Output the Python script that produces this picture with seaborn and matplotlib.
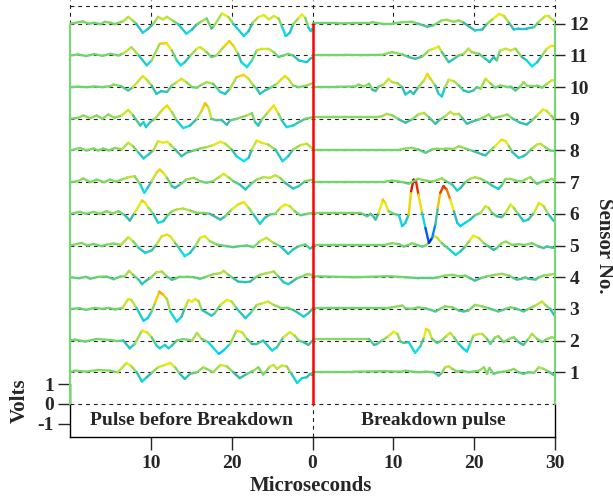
import numpy as np
import matplotlib
matplotlib.use("Agg")
import matplotlib.pyplot as plt
import seaborn as sns
import pandas as pd
from matplotlib.collections import LineCollection
from matplotlib.colors import LinearSegmentedColormap, Normalize

# ---------------- data ----------------
sensors = list(range(1, 13))
sensor_spacing = 1.6          # volts between sensor baselines
panel_labels = ["Pulse before Breakdown", "Breakdown pulse"]
x_ticks = [10, 20, 30, 40, 50, 60]
x_ticklabels = ["10", "20", "0", "10", "20", "30"]
volt_ticks = [-1, 0, 1]
volt_ticklabels = ["-1", "0", "1"]

# (time in microseconds, volts relative to the sensor baseline)
before_12 = [(0,0),(1.6,0.12),(2.3,0.0),(3.0,0.05),(3.8,-0.02),(4.3,0.1),(5.0,0.05),(5.5,-0.02),(6.6,0.13),(7.2,0.35),(7.8,0.15),(8.2,0),(9.0,-0.45),(9.6,-0.28),(10.3,0),(10.9,0.35),(11.5,0.22),(12.0,0.35),(12.8,0.13),(13.4,-0.03),(14.4,-0.5),(15.1,-0.29),(15.7,-0.03),(16.3,0.13),(16.9,0.27),(17.5,-0.24),(17.8,-0.12),(18.8,0.52),(19.6,0.34),(20.2,0),(21.5,-0.62),(22.1,-0.37),(22.6,0.05),(23.3,0.34),(24.0,0.44),(24.6,0.22),(25.2,0.39),(25.8,0.27),(26.2,-0.12),(26.7,-0.62),(27.2,-0.45),(27.6,-0.03),(28.3,0.3),(28.7,0.47),(29.1,0.3),(29.5,-0.2),(29.8,-0.37),(30,-0.24)]
before_11 = [(0,0),(1,0.05),(2,-0.03),(3,0.07),(4,-0.02),(5,0.08),(6,0.0),(6.6,0.1),(7.6,0.42),(8.5,0.0),(9.5,-0.5),(10.1,-0.25),(11.1,0.59),(11.96,0.62),(12.6,0.25),(13.2,-0.25),(13.7,-0.5),(14.2,-0.34),(14.9,0),(15.7,0.34),(16.1,0.42),(16.9,0.17),(17.5,-0.08),(18.1,0),(19.0,0.42),(19.7,0.72),(20.2,0.5),(20.8,0.08),(21.2,-0.34),(21.9,-0.59),(22.5,-0.25),(23.1,0.25),(23.7,0.34),(24.5,0.34),(25.2,0.17),(25.8,-0.08),(26.4,0),(27.0,0.08),(27.6,0),(28.3,-0.25),(29.3,-0.34),(29.7,-0.17),(30,-0.1)]
before_10 = [(0,0),(1,0.02),(2,0.0),(3,0.03),(4,0.0),(5,0.05),(5.4,0.13),(6.3,0.05),(7.2,-0.17),(7.8,0),(9.0,0.56),(9.5,0.37),(10.1,0.08),(10.7,-0.34),(11.3,-0.2),(12.0,-0.25),(12.6,0.08),(13.2,0.25),(13.8,0.42),(14.4,0.25),(15.1,0),(15.7,-0.03),(16.3,0.13),(16.9,0.25),(17.7,0.17),(18.6,-0.25),(19.2,-0.34),(19.8,-0.08),(20.6,0.5),(21.5,0.62),(22.1,0.42),(22.7,0.08),(23.1,-0.08),(23.5,-0.34),(24.1,-0.17),(24.8,-0.03),(25.6,0.17),(26.2,0.42),(26.6,0.56),(27.0,0.42),(27.6,0.08),(28.3,0),(29.3,0.08),(30,0.2)]
before_9 = [(0,0),(1.0,0.05),(1.65,0.17),(2.5,0.03),(3.3,0.17),(4.0,0.0),(4.75,0.22),(5.5,0.05),(6.4,0.17),(7.2,0.45),(7.8,0.17),(8.7,-0.34),(9.1,-0.17),(9.4,-0.42),(9.9,-0.17),(10.5,0),(11.35,0.42),(12.0,0.67),(12.6,0.34),(13.2,-0.08),(14.0,-0.47),(14.85,-0.34),(15.7,0),(16.3,0.42),(16.7,0.79),(17.1,0.59),(17.5,0),(18.15,-0.08),(18.8,-0.08),(19.4,-0.3),(19.8,-0.08),(20.6,0),(21.9,0.17),(22.5,0.29),(22.9,-0.17),(23.3,-0.34),(23.7,-0.05),(24.5,0.34),(25.2,0.67),(25.8,0.25),(26.2,-0.08),(26.8,-0.42),(27.6,-0.34),(28.3,-0.17),(29.1,0),(30,0.08)]
before_8 = [(0,0),(1.24,0.13),(2.0,0.0),(2.9,0.1),(3.5,0.0),(4.1,0.1),(4.8,0.0),(5.6,0.13),(6.4,0.05),(7.2,0.39),(7.8,0.22),(8.5,-0.12),(9.1,-0.4),(9.7,-0.2),(10.3,0),(10.9,0.47),(11.55,0.39),(12.0,0.44),(12.4,0.3),(13.0,0.05),(13.8,-0.29),(14.4,-0.12),(15.3,0),(16.1,0.1),(16.9,0.17),(17.7,0.27),(18.6,0.44),(19.2,0.34),(20.0,0.05),(20.6,-0.29),(21.5,-0.54),(22.1,-0.37),(22.5,0.05),(23.1,0.5),(23.7,0.39),(24.5,0.3),(25.4,0.05),(26.3,-0.54),(27.0,-0.29),(27.6,0.05),(28.5,0.27),(29.3,0.34),(30,0.1)]
before_7 = [(0,0),(1.0,0.05),(1.65,0.19),(2.5,0.0),(3.3,0.13),(4.2,0.0),(4.95,0.13),(5.7,0.03),(6.4,0.13),(7.2,0.25),(8.0,0.3),(8.7,-0.12),(9.2,-0.54),(9.6,-0.29),(10.1,0.05),(10.7,0.47),(11.1,0.64),(11.55,0.47),(12.0,0.22),(12.6,-0.2),(13.0,-0.29),(13.6,-0.12),(14.4,0.13),(15.3,0.22),(16.1,0.05),(16.9,-0.03),(17.7,0.05),(18.6,0.3),(19.0,0.42),(19.6,0.25),(20.2,0.05),(21.0,-0.12),(21.7,-0.37),(22.3,-0.12),(23.1,0.13),(23.9,0.25),(24.75,0.22),(25.4,0.35),(26.0,0.22),(26.6,-0.03),(27.6,-0.32),(28.3,-0.2),(29.1,0.05),(30,0.13)]
before_6 = [(0,0),(1.24,0.1),(2.0,0.0),(2.9,0.1),(3.7,0.0),(4.5,0.13),(5.3,0.02),(6.0,0.13),(6.8,-0.07),(7.4,-0.34),(8.0,0.05),(8.9,0.67),(9.3,0.56),(9.7,0.3),(10.3,0),(10.9,-0.45),(11.55,-0.37),(12.0,-0.12),(12.6,0.13),(13.2,0.22),(14.0,0.27),(14.85,0.17),(15.7,0.05),(16.5,0.05),(17.3,0),(18.6,-0.29),(19.2,-0.12),(20.0,0.22),(20.8,0.47),(21.5,0.6),(22.1,0.3),(22.7,-0.03),(23.5,-0.5),(24.1,-0.2),(24.75,-0.03),(25.4,0),(26.0,0.3),(26.6,0.47),(27.2,0.39),(27.8,0.13),(28.5,-0.07),(29.3,0),(30,0.05)]
before_5 = [(0,0),(1.44,0.13),(2.2,0.0),(2.9,0.08),(3.9,-0.03),(4.6,0.05),(5.4,0.1),(6.3,0.03),(7.2,0.42),(7.8,0.22),(8.5,-0.12),(9.3,-0.37),(10.1,-0.25),(10.7,0.05),(11.35,0.47),(12.0,0.55),(12.4,0.47),(13.0,0.13),(13.6,-0.2),(14.2,-0.54),(14.85,-0.37),(15.5,-0.03),(16.1,0.39),(16.7,0.47),(17.3,0.22),(18.15,0.05),(19.4,-0.03),(20.2,-0.08),(21.0,-0.03),(21.9,0.0),(22.7,-0.08),(23.5,0.22),(24.3,0.39),(25.2,0.13),(26.0,-0.03),(27.0,-0.42),(27.6,-0.2),(28.3,-0.03),(29.1,0.05),(29.7,-0.15),(30,-0.1)]
before_4 = [(0,0),(1.1,-0.05),(2.0,0.02),(2.5,-0.08),(3.5,0.02),(4.5,0.03),(5.4,-0.1),(6.2,0.03),(6.8,0.05),(7.3,0.32),(7.8,0.12),(8.5,-0.13),(8.9,-0.35),(9.4,-0.18),(9.9,-0.05),(10.7,0.25),(11.35,0.29),(12.0,0.03),(12.6,-0.13),(13.0,-0.08),(13.6,0.03),(14.4,0.03),(15.3,0),(16.1,-0.08),(16.9,0.03),(17.7,0.15),(18.6,0.2),(19.0,0.32),(19.6,0.12),(20.2,-0.05),(20.8,-0.22),(21.7,-0.25),(22.3,-0.22),(22.9,-0.02),(23.5,0.12),(24.3,0.2),(25.2,0.29),(25.8,0.03),(26.4,-0.25),(27.0,-0.35),(27.4,-0.25),(28.1,-0.05),(28.7,0.03),(29.3,0.15),(30,0.12)]
before_3 = [(0,0),(1.2,0.03),(2.0,-0.05),(3.0,0.05),(4.0,0.0),(4.8,0.05),(5.6,-0.03),(6.5,0.05),(7.2,0.5),(7.6,0.45),(8.25,0.03),(9.1,-0.6),(9.6,-0.47),(10.1,-0.13),(10.5,0.29),(11.05,0.87),(11.55,0.71),(12.0,0.5),(12.4,-0.13),(13.2,-0.64),(13.8,-0.39),(14.2,0.03),(14.65,0.45),(15.1,0.37),(15.5,0.5),(15.9,0.4),(16.3,-0.05),(17.5,-0.34),(17.9,-0.22),(18.6,0.2),(19.4,0.45),(20.0,0.37),(20.6,0.03),(21.7,-0.47),(22.5,-0.13),(23.1,0.2),(23.9,0.29),(24.5,0.37),(25.2,0.2),(26.0,0.07),(26.8,0.07),(27.6,-0.05),(28.3,-0.22),(28.9,-0.39),(29.5,-0.22),(30,0.0)]
before_2 = [(0,0),(0.6,0.05),(1.85,-0.05),(3.3,0.08),(4.95,0.03),(5.8,-0.02),(6.6,0),(7.4,-0.39),(8.0,-0.17),(8.9,0.5),(9.5,0.42),(10.1,0.17),(10.7,-0.25),(11.1,-0.39),(11.75,-0.22),(12.2,-0.39),(12.6,-0.25),(13.2,0),(14.0,0.08),(15.1,0),(15.7,0.39),(16.3,0.08),(17.1,-0.08),(18.4,-0.67),(19.0,-0.5),(19.8,-0.17),(20.6,0.5),(21.3,0.42),(21.9,0.08),(22.5,-0.17),(23.1,-0.17),(23.9,0),(25.0,-0.5),(25.6,-0.34),(26.4,0.17),(27.2,0.42),(27.8,0.25),(28.3,0),(28.9,-0.08),(29.5,-0.22),(30,0)]
before_1 = [(0,0),(0.6,0.08),(2.0,0.03),(3.5,0.12),(4.95,0.08),(5.9,0.0),(7.0,0.47),(7.6,0.3),(8.25,0),(8.9,-0.47),(9.5,-0.25),(10.1,-0.03),(10.9,0.25),(11.75,0.37),(12.4,0.47),(13.0,0.25),(13.6,-0.08),(14.2,-0.34),(14.85,-0.08),(15.7,0),(16.5,0.25),(16.9,0.17),(17.7,0),(18.6,0.37),(19.4,0.3),(20.2,0),(21.0,-0.3),(21.9,-0.08),(22.7,0.08),(23.3,0.25),(23.9,-0.12),(24.75,0.3),(25.2,0.37),(25.6,0.17),(26.2,0.34),(26.8,0.3),(27.4,-0.08),(28.1,-0.54),(28.7,-0.3),(29.3,-0.25),(29.7,-0.08),(30,-0.15)]

breakdown_12 = [(0,0.02),(3,0.02),(5,0.03),(7.0,0.03),(7.4,0.08),(8.6,0),(9.85,0),(11.1,0.08),(12.3,0.1),(13.1,0),(14.2,-0.15),(15.0,-0.07),(16.0,0.17),(16.6,0.2),(17.5,0.1),(18.1,0.17),(18.7,0.05),(20.1,-0.34),(21.0,-0.29),(21.6,0),(22.4,0.27),(23.1,0.5),(23.7,0.39),(24.3,0.05),(24.9,-0.29),(25.5,-0.24),(26.5,-0.24),(27.4,-0.17),(28.0,0.1),(28.8,0.39),(29.2,0.39),(29.8,0.17),(30,0.1)]
breakdown_11 = [(0,0.03),(4,0.03),(6,0.02),(8.6,0.03),(9.85,0.17),(11.1,0.05),(11.9,-0.08),(12.7,-0.17),(13.6,-0.05),(14.4,0.25),(15.0,0.34),(15.6,0.45),(16.0,0.17),(16.85,-0.34),(17.5,-0.17),(18.1,0),(18.7,0.08),(19.3,0.34),(19.7,0.17),(20.6,0.08),(21.4,-0.17),(21.9,-0.34),(22.4,-0.08),(22.8,-0.25),(23.2,0.25),(23.9,0.34),(24.5,0.25),(25.1,0.34),(25.9,-0.08),(26.5,-0.25),(27.15,-0.55),(27.8,-0.34),(28.4,0),(29.0,0.34),(29.6,0.5),(30,0.5)]
breakdown_10 = [(0,0.02),(3,0.02),(5.3,0.03),(5.7,0.13),(6.35,0.03),(7.0,0.17),(7.4,-0.13),(7.8,-0.2),(8.2,0.03),(8.8,0.13),(9.4,0.42),(9.85,0.25),(10.5,0.2),(11.1,0),(11.5,-0.37),(12.1,-0.2),(12.5,-0.34),(13.1,0),(13.8,0.34),(14.2,0.67),(14.6,0.42),(15.2,0.08),(15.6,-0.34),(16.0,-0.47),(16.4,0),(16.85,0.37),(17.5,0.3),(18.1,0.08),(18.7,-0.17),(19.3,-0.25),(19.9,-0.17),(20.35,0),(20.8,-0.08),(21.4,0.42),(22.0,0.2),(22.6,-0.03),(23.2,0.08),(23.9,0.03),(24.5,0.03),(25.1,-0.17),(25.7,0.03),(26.1,0.25),(26.5,0.08),(27.15,0.08),(27.8,0.08),(28.4,-0.03),(29.0,0.17),(29.6,0.34),(30,0.37)]
breakdown_9 = [(0,0.08),(4,0.08),(7.8,0.08),(8.6,0.13),(9.2,0.25),(9.85,0.18),(10.7,-0.03),(11.5,-0.2),(12.3,-0.03),(13.1,0.22),(13.8,0.3),(14.4,0.08),(15.2,-0.25),(15.8,-0.03),(16.4,0.13),(17.05,0.35),(17.5,0.22),(18.1,0.25),(18.5,0.05),(19.1,-0.25),(19.7,-0.15),(20.6,-0.03),(21.2,0.08),(21.8,0.22),(22.2,0.02),(22.8,0.08),(23.4,0.13),(24.1,0.22),(24.7,0.02),(25.7,-0.2),(26.5,-0.29),(27.15,-0.08),(27.8,0.18),(28.5,0.47),(29.0,0.39),(29.6,0.13),(30,-0.03)]
breakdown_8 = [(0,0.03),(4,0.03),(8,0.03),(10.7,0.03),(11.5,0.1),(12.3,0.13),(13.1,0.05),(14.0,-0.12),(14.8,0.05),(15.6,0.1),(16.4,0.1),(17.5,0.08),(18.1,0.22),(18.9,0.1),(19.9,-0.03),(21.0,-0.2),(21.4,-0.24),(22.0,0),(22.6,0.22),(23.4,0.55),(23.9,0.47),(24.3,0.22),(24.7,-0.07),(25.5,-0.37),(26.1,-0.29),(26.5,-0.17),(27.15,0.1),(27.8,0.3),(28.2,0.34),(28.8,0.17),(29.4,0.0),(30,-0.03)]
breakdown_7 = [(0,0.03),(4,0.03),(9.0,0.03),(9.85,0.08),(10.7,0.03),(11.5,-0.03),(11.9,-0.08),(13.1,0.17),(14.0,0.08),(14.8,0.03),(15.6,0.13),(16.0,0.2),(16.4,0.08),(17.3,-0.13),(17.9,-0.42),(18.3,-0.3),(18.9,0),(19.5,0.17),(20.1,0.25),(20.8,0.17),(21.6,0),(22.2,-0.17),(23.0,-0.34),(23.4,-0.17),(23.9,0.17),(24.5,0.17),(25.1,0.08),(25.9,0.03),(26.5,0.17),(26.95,0.25),(27.6,-0.03),(27.8,-0.08),(28.4,0.03),(29.0,0.08),(29.6,0.17),(30,0.08)]
breakdown_6 = [(0,0.05),(3,0.05),(5.9,0.05),(6.35,-0.03),(6.75,-0.12),(7.2,0.0),(7.6,-0.17),(7.8,-0.29),(8.2,0.05),(8.7,0.72),(9.0,0.56),(9.4,0.13),(10.05,0),(10.7,-0.07),(11.1,-0.62),(11.5,-0.45),(11.9,-0.03),(12.2,1.14),(12.5,1.73),(12.8,1.65),(13.1,0.98),(13.55,0.05),(13.97,-0.71),(14.4,-1.46),(14.8,-1.21),(15.2,-0.54),(15.5,0.3),(15.8,1.06),(16.2,1.4),(16.6,1.23),(17.05,0.72),(17.5,0.13),(17.9,-0.45),(18.3,-0.62),(18.9,-0.45),(19.5,-0.29),(20.1,-0.07),(20.8,0.05),(21.4,0.39),(21.8,0.3),(22.2,0.05),(22.8,-0.12),(23.4,-0.17),(23.9,0.05),(24.5,0.47),(24.9,0.3),(25.5,-0.03),(26.1,-0.37),(26.7,-0.29),(27.4,0.05),(28.0,0.55),(28.6,0.39),(29.2,-0.03),(29.8,-0.34),(30,-0.29)]
breakdown_5 = [(0,0.03),(4,0.03),(9.0,0.03),(9.85,0.12),(10.7,0.07),(11.3,-0.05),(11.9,0.03),(12.3,0.12),(12.9,0.03),(13.55,-0.05),(13.97,0.0),(14.4,0.12),(15.0,0.5),(15.4,0.4),(16.0,0.12),(16.85,-0.17),(17.7,-0.47),(18.3,-0.3),(18.9,-0.05),(19.5,0.29),(19.9,0.5),(20.6,0.37),(21.2,0.12),(21.8,-0.05),(22.4,-0.22),(22.8,-0.13),(23.4,0.12),(23.9,0.2),(24.7,0.03),(25.5,0.07),(26.3,0.03),(27.15,0.12),(28.0,-0.05),(28.6,-0.13),(29.0,-0.05),(29.6,-0.1),(30,-0.13)]
breakdown_4 = [(0,0.05),(5.3,0.0),(9.4,0.05),(11.5,0.0),(13.1,-0.05),(14.8,-0.05),(15.6,0.0),(16.4,0.08),(17.3,0.12),(18.1,0.05),(18.9,0.08),(19.5,-0.05),(20.1,-0.17),(20.8,-0.05),(21.6,0.05),(22.6,0.12),(23.4,0.17),(24.3,0.08),(24.9,-0.05),(25.3,-0.12),(25.9,-0.08),(26.3,0.0),(26.7,-0.08),(27.6,-0.12),(28.0,0.0),(28.6,0.08),(29.2,0.12),(30,0.17)]
breakdown_3 = [(0,0.02),(5,0.02),(9.0,0.02),(9.85,0.08),(11.1,0.17),(11.5,0.03),(12.3,0.0),(13.1,0.08),(14.0,0.03),(15.2,-0.13),(15.8,0.0),(16.4,0.13),(17.3,0.08),(18.1,-0.08),(18.7,-0.13),(19.3,-0.08),(20.1,0.2),(21.0,0.13),(21.8,0.03),(23.0,-0.13),(23.9,0.0),(24.5,0.08),(25.1,0.03),(26.1,-0.13),(26.7,0.0),(27.6,0.17),(28.4,0.37),(28.8,0.2),(29.4,0.0),(30,-0.37)]
breakdown_2 = [(0,0.08),(4,0.08),(6.55,0.08),(7.0,0.08),(7.6,-0.22),(8.0,-0.17),(8.6,0),(9.4,0.22),(10.05,0.45),(10.5,0.34),(10.9,-0.05),(11.3,-0.12),(11.9,-0.08),(12.7,-0.62),(13.35,-0.29),(13.8,0.17),(14.05,0.59),(14.4,0.5),(14.8,0.08),(15.4,-0.12),(16.0,0),(16.6,0.25),(17.05,0.39),(17.5,0.17),(18.1,-0.17),(18.7,-0.42),(19.1,-0.55),(19.5,-0.17),(19.9,0.25),(20.6,0.34),(21.0,0.34),(21.6,0.08),(22.0,-0.17),(22.6,0.17),(23.0,0.22),(23.65,-0.08),(24.3,0.08),(24.9,0.17),(25.5,-0.08),(26.1,-0.22),(26.7,0.08),(27.15,0.34),(27.8,0.08),(28.4,-0.08),(29.0,0.08),(29.6,0.17),(30,0.12)]
breakdown_1 = [(0,0.03),(5,0.03),(9,0.05),(11.1,0.03),(11.5,0.08),(12.3,0.03),(13.1,0.0),(14.0,0.03),(15.0,0.0),(15.6,-0.17),(16.0,-0.03),(16.4,0.25),(16.85,0.3),(17.3,0.17),(17.9,0.03),(18.5,0.08),(19.3,0.0),(19.9,0.03),(20.6,0.08),(21.2,0.25),(21.6,-0.08),(21.9,0.22),(22.4,-0.08),(23.0,0.0),(23.65,0.03),(24.3,0.08),(24.9,0.17),(25.5,0.0),(26.1,-0.08),(26.7,0.0),(27.4,-0.03),(28.0,0.25),(28.6,0.17),(29.2,0.03),(29.8,-0.13),(30,-0.08)]

before = {1: before_1, 2: before_2, 3: before_3, 4: before_4, 5: before_5, 6: before_6,
          7: before_7, 8: before_8, 9: before_9, 10: before_10, 11: before_11, 12: before_12}
breakdown = {1: breakdown_1, 2: breakdown_2, 3: breakdown_3, 4: breakdown_4, 5: breakdown_5,
             6: breakdown_6, 7: breakdown_7, 8: breakdown_8, 9: breakdown_9, 10: breakdown_10,
             11: breakdown_11, 12: breakdown_12}

# ---------------- style ----------------
sns.set_theme(style="white")
plt.rcParams["font.family"] = ["Liberation Serif", "DejaVu Serif"]
plt.rcParams["font.weight"] = "bold"
plt.rcParams["axes.unicode_minus"] = False

anchors = [(-1.6, (0.0, 0.0, 0.55)), (-1.2, (0.0, 0.25, 0.95)), (-0.8, (0.0, 0.6, 1.0)),
           (-0.45, (0.0, 0.9, 0.95)), (-0.15, (0.22, 0.72, 0.66)), (0.0, (0.42, 0.83, 0.45)),
           (0.2, (0.66, 0.87, 0.3)), (0.4, (0.93, 0.93, 0.05)), (0.7, (0.95, 0.74, 0.0)),
           (1.0, (0.97, 0.45, 0.0)), (1.4, (0.9, 0.1, 0.0)), (1.8, (0.65, 0.0, 0.0))]
vmin, vmax = -1.6, 1.8
cmap = LinearSegmentedColormap.from_list(
    "pulse", [((v - vmin) / (vmax - vmin), c) for v, c in anchors])
norm = Normalize(vmin, vmax)

W, H = 613, 499
fig = plt.figure(figsize=(W / 100, H / 100), dpi=100)
ax = fig.add_axes([70 / W, 1 - 437 / H, (555 - 70) / W, 437 / H])
ymin, ymax = -1.67, 20.4
ax.set_xlim(0, 60)
ax.set_ylim(ymin, ymax)

baselines = {s: sensor_spacing * s for s in sensors}
top_base = baselines[12]

# dashed baselines (seaborn)
base_df = pd.DataFrame({
    "x": [0, 60] * len(sensors),
    "y": [baselines[s] for s in sensors for _ in range(2)],
    "sensor": [s for s in sensors for _ in range(2)],
})
sns.lineplot(data=base_df, x="x", y="y", units="sensor", estimator=None, sort=False,
             color="#222222", lw=0.8, linestyle=(0, (3.5, 3.5)), legend=False, ax=ax, zorder=2)
ax.set_xlabel("")
ax.set_ylabel("")

dash = dict(color="#222222", lw=0.8, linestyle=(0, (3.5, 3.5)), zorder=2)
ax.plot([0, 60], [0, 0], **dash)
ax.plot([0, 60], [20.1, 20.1], **dash, clip_on=False)
ax.plot([30, 30], [ymin, 0], **dash)
for xv in [0, 10, 20, 30, 40, 50, 60]:
    ax.plot([xv, xv], [top_base, ymax], **dash, clip_on=False)

# colored traces
segs, vals = [], []
for s in sensors:
    for offset, trace in [(0, before[s]), (30, breakdown[s])]:
        t = np.array([p[0] for p in trace]) + offset
        v = np.array([p[1] for p in trace])
        y = baselines[s] + v
        pts = np.column_stack([t, y])
        for i in range(len(pts) - 1):
            segs.append(pts[i:i + 2])
            vals.append(0.5 * (v[i] + v[i + 1]))
lc = LineCollection(segs, colors=cmap(norm(np.array(vals))), linewidths=1.7,
                    capstyle="round", joinstyle="round", zorder=3)
ax.add_collection(lc)

green = (0.45, 0.85, 0.45)
ax.plot([0, 0], [0, top_base], color=green, lw=1.5, zorder=4, clip_on=False)
ax.plot([60, 60], [0, top_base], color=green, lw=1.5, zorder=4, clip_on=False)
ax.plot([30, 30], [0, top_base], color="#ff0000", lw=1.8, zorder=5)

# spines and ticks
ax.spines["top"].set_visible(False)
for sp in ["left", "right", "bottom"]:
    ax.spines[sp].set_color("black")
    ax.spines[sp].set_linewidth(1.0)
ax.spines["left"].set_bounds(ymin, 1)
ax.spines["right"].set_bounds(ymin, 0)

ax.set_xticks(x_ticks)
ax.set_xticklabels(x_ticklabels)
ax.set_yticks(volt_ticks)
ax.set_yticklabels(volt_ticklabels)
ax.tick_params(axis="x", direction="out", length=9, width=1, pad=4, labelsize=14, bottom=True)
ax.tick_params(axis="y", direction="out", length=8.5, width=1, pad=3, labelsize=14, left=True)
for lab in ax.get_xticklabels() + ax.get_yticklabels():
    lab.set_fontweight("bold")

ax2 = ax.twinx()
ax2.set_ylim(ymin, ymax)
ax2.set_yticks([baselines[s] for s in sensors])
ax2.set_yticklabels([str(s) for s in sensors])
for sp in ax2.spines.values():
    sp.set_visible(False)
ax2.tick_params(axis="y", direction="out", length=7.5, width=1, pad=3, labelsize=14, right=True)
for lab in ax2.get_yticklabels():
    lab.set_fontweight("bold")
ax2.grid(False)
ax.grid(False)

ax.text(15, -0.83, panel_labels[0], ha="center", va="center", fontsize=14, fontweight="bold")
ax.text(45, -0.83, panel_labels[1], ha="center", va="center", fontsize=14, fontweight="bold")

fig.text(20 / W, 1 - 401 / H, "Volts", rotation=90, ha="center", va="center",
         fontsize=15, fontweight="bold")
fig.text(604 / W, 1 - 246 / H, "Sensor No.", rotation=270, ha="center", va="center",
         fontsize=15, fontweight="bold")
fig.text(311 / W, 1 - 486 / H, "Microseconds", ha="center", va="center",
         fontsize=15, fontweight="bold")

fig.savefig("out.png", dpi=100)
